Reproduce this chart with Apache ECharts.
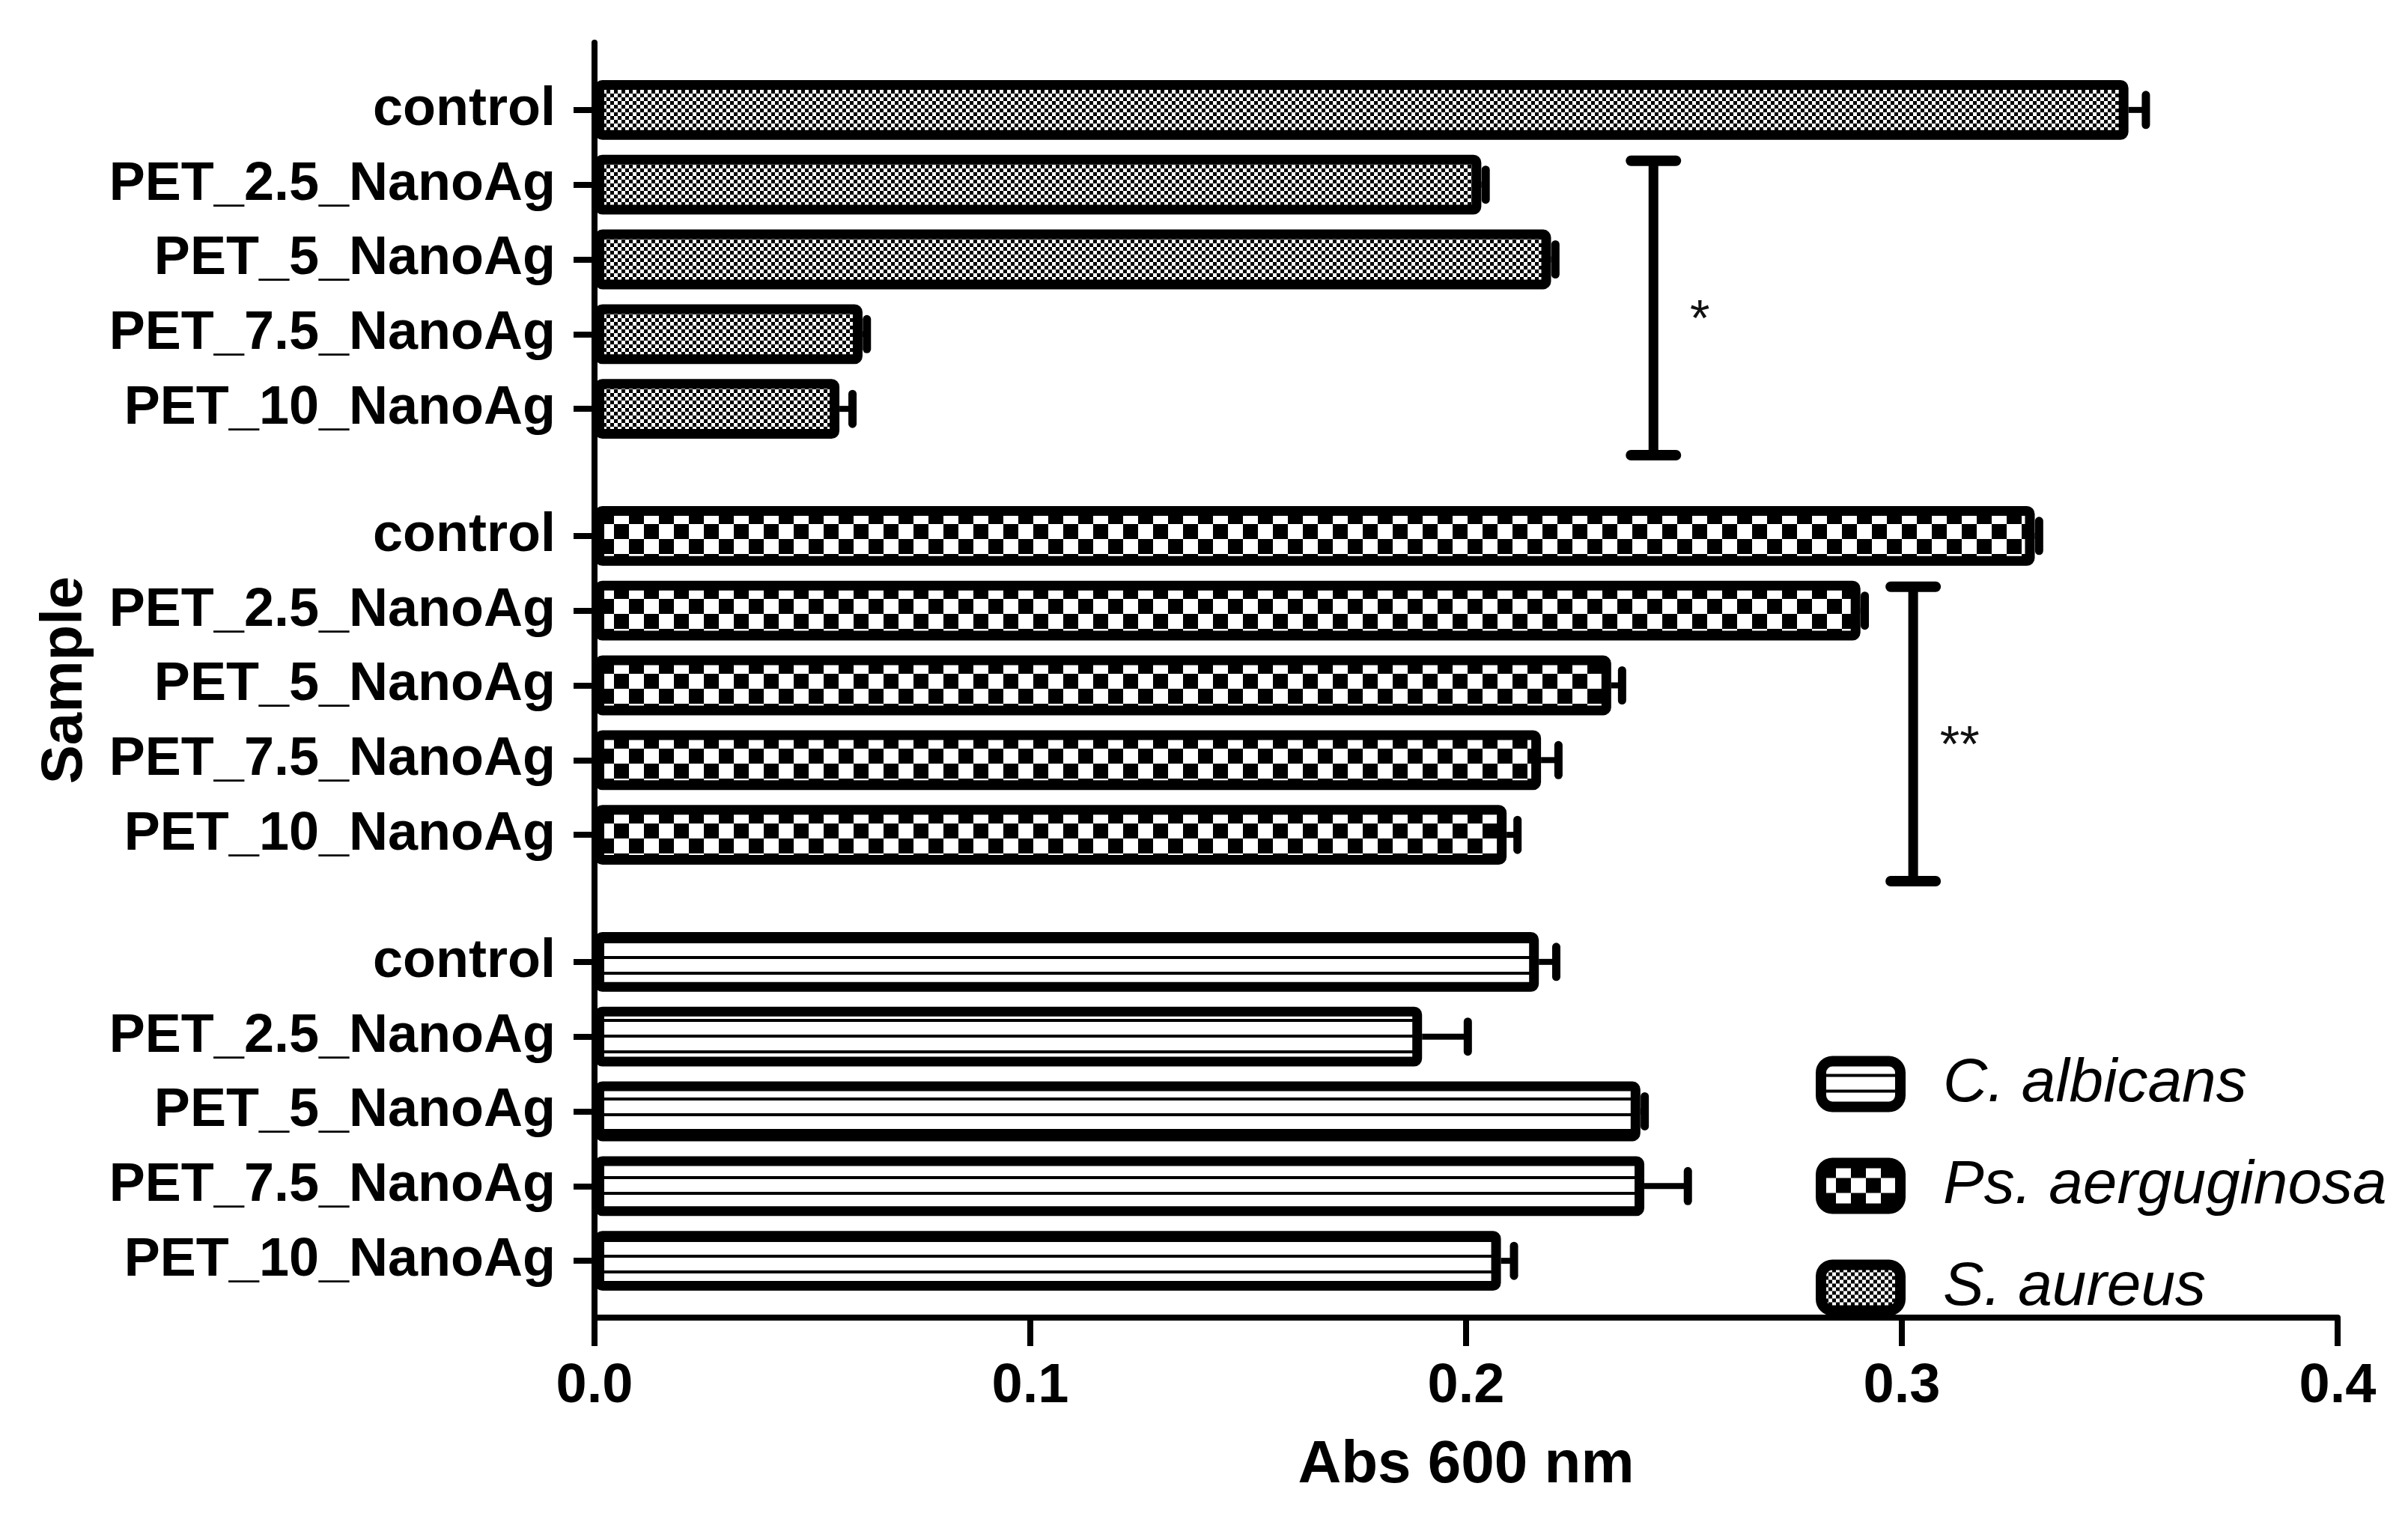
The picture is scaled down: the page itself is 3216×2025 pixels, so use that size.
<!DOCTYPE html>
<html>
<head>
<meta charset="utf-8">
<script src="https://cdn.jsdelivr.net/npm/echarts@6/dist/echarts.min.js"></script>
<style>
  html, body { margin: 0; background: #fff; }
  #chart { width: 3216px; height: 2025px; }
</style>
</head>
<body>
<div id="chart"></div>
<script>
// samples, same order inside every block (top to bottom)
const categories = ['control', 'PET_2.5_NanoAg', 'PET_5_NanoAg', 'PET_7.5_NanoAg', 'PET_10_NanoAg'];

// blocks drawn top to bottom
const sAureus = [0.352, 0.2035, 0.2195, 0.0615, 0.0562];
const sAureusErr = [0.004, 0.001, 0.001, 0.001, 0.003];
const psAer = [0.3305, 0.2905, 0.2333, 0.2172, 0.2093];
const psAerErr = [0.001, 0.001, 0.0025, 0.004, 0.0025];
const cAlb = [0.2167, 0.1899, 0.240, 0.2409, 0.208];
const cAlbErr = [0.004, 0.0105, 0.001, 0.010, 0.003];

const seriesNames = ['S. aureus', 'Ps. aerguginosa', 'C. albicans'];
const legendOrder = ['C. albicans', 'Ps. aerguginosa', 'S. aureus'];
const xTicks = [0.0, 0.1, 0.2, 0.3, 0.4];

// significance brackets: block, first / last sample, x position, label
const sigBlock = [0, 1];
const sigFrom = [1, 1];
const sigTo = [4, 4];
const sigX = [0.243, 0.3026];
const sigText = ['*', '**'];

const FONT = 'Liberation Sans, Arial, sans-serif';
const BLOCK = categories.length + 0.7;
const rowPos = (g, i) => g * BLOCK + i;

function pattern(w, h, draw) {
  const c = document.createElement('canvas');
  c.width = w; c.height = h;
  const ctx = c.getContext('2d');
  ctx.fillStyle = '#fff';
  ctx.fillRect(0, 0, w, h);
  ctx.fillStyle = '#000';
  draw(ctx);
  return { image: c, repeat: 'repeat' };
}
const fineChecker = pattern(10, 10, (ctx) => { ctx.fillRect(0, 0, 5, 5); ctx.fillRect(5, 5, 5, 5); });
const bigChecker = pattern(40, 40, (ctx) => { ctx.fillRect(0, 0, 20, 20); ctx.fillRect(20, 20, 20, 20); });
const stripes = pattern(10, 21, (ctx) => { ctx.fillRect(0, 17, 10, 4); });
const fills = [fineChecker, bigChecker, stripes];

const blocks = [[sAureus, sAureusErr], [psAer, psAerErr], [cAlb, cAlbErr]];

const labelValues = [];
const labelText = {};
blocks.forEach((b, g) => categories.forEach((c, i) => {
  labelValues.push(rowPos(g, i));
  labelText[rowPos(g, i).toFixed(2)] = c;
}));

const BORDER = 13;

function barItem(fill) {
  return function (params, api) {
    const v = api.value(0), y = api.value(1), e = api.value(2);
    const p0 = api.coord([0, y]);
    const p1 = api.coord([v, y]);
    const pe = api.coord([v + e, y]);
    const h = api.size([0, 0.8])[1];
    return {
      type: 'group',
      children: [
        {
          type: 'line',
          shape: { x1: p1[0], y1: p1[1], x2: pe[0], y2: pe[1] },
          style: { stroke: '#000', lineWidth: 8 }
        },
        {
          type: 'line',
          shape: { x1: pe[0], y1: pe[1] - 20, x2: pe[0], y2: pe[1] + 20 },
          style: { stroke: '#000', lineWidth: 11, lineCap: 'round' }
        },
        {
          type: 'rect',
          shape: {
            x: p0[0] + BORDER / 2, y: p0[1] - h / 2 + BORDER / 2,
            width: p1[0] - p0[0] - BORDER, height: h - BORDER, r: 4
          },
          style: { fill: fill, stroke: '#000', lineWidth: BORDER }
        }
      ]
    };
  };
}

const series = blocks.map((b, g) => ({
  name: seriesNames[g],
  type: 'custom',
  renderItem: barItem(fills[g]),
  itemStyle: { color: fills[g], borderColor: '#000' },
  encode: { x: 0, y: 1 },
  data: b[0].map((v, i) => [v, rowPos(g, i), b[1][i]]),
  z: 3
}));

series.push({
  type: 'custom',
  name: 'sig',
  encode: { x: 0, y: 1 },
  data: sigX.map((x, k) => [
    x,
    rowPos(sigBlock[k], sigFrom[k]) - 0.32,
    rowPos(sigBlock[k], sigTo[k]) + 0.62,
    k
  ]),
  renderItem: (params, api) => {
    const x = api.value(0);
    const a = api.coord([x, api.value(1)]);
    const b = api.coord([x, api.value(2)]);
    const k = api.value(3);
    const cap = { stroke: '#000', lineWidth: 14, lineCap: 'round' };
    return {
      type: 'group',
      children: [
        { type: 'line', shape: { x1: a[0], y1: a[1], x2: b[0], y2: b[1] }, style: { stroke: '#000', lineWidth: 13 } },
        { type: 'line', shape: { x1: a[0] - 30, y1: a[1], x2: a[0] + 30, y2: a[1] }, style: cap },
        { type: 'line', shape: { x1: b[0] - 30, y1: b[1], x2: b[0] + 30, y2: b[1] }, style: cap },
        {
          type: 'text',
          style: {
            text: sigText[k], x: a[0] + 62, y: (a[1] + b[1]) / 2 + 18,
            font: 'normal 68px ' + FONT, fill: '#111', align: 'center', verticalAlign: 'middle'
          }
        }
      ]
    };
  },
  z: 4
});

const chart = echarts.init(document.getElementById('chart'), null, { renderer: 'canvas' });
chart.setOption({
  animation: false,
  backgroundColor: '#fff',
  grid: { left: 794, right: 94, top: 57, bottom: 265, containLabel: false },
  xAxis: {
    type: 'value',
    min: xTicks[0],
    max: xTicks[xTicks.length - 1],
    interval: xTicks[1] - xTicks[0],
    name: 'Abs 600 nm',
    nameLocation: 'middle',
    nameGap: 158,
    nameTextStyle: { fontFamily: FONT, fontWeight: 'bold', fontSize: 80, color: '#000' },
    axisLine: { show: true, onZero: false, lineStyle: { color: '#000', width: 8 } },
    axisTick: { show: true, length: 38, lineStyle: { color: '#000', width: 8 } },
    axisLabel: {
      margin: 56, fontFamily: FONT, fontWeight: 'bold', fontSize: 74, color: '#000',
      formatter: (v) => v.toFixed(1)
    },
    splitLine: { show: false }
  },
  yAxis: {
    type: 'value',
    inverse: true,
    min: -0.9,
    max: rowPos(2, 4) + 0.76,
    name: 'Sample',
    nameLocation: 'middle',
    nameRotate: 90,
    nameGap: 668,
    nameTextStyle: { fontFamily: FONT, fontWeight: 'bold', fontSize: 78, color: '#000' },
    axisLine: { show: true, onZero: false, lineStyle: { color: '#000', width: 8 } },
    axisTick: { show: true, length: 28, customValues: labelValues, lineStyle: { color: '#000', width: 8 } },
    axisLabel: {
      margin: 52, fontFamily: FONT, fontWeight: 'bold', fontSize: 72, color: '#000',
      customValues: labelValues,
      formatter: (v) => labelText[Number(v).toFixed(2)] || ''
    },
    splitLine: { show: false }
  },
  legend: {
    orient: 'vertical',
    left: 2420,
    top: 1402,
    itemWidth: 106,
    itemHeight: 61,
    itemGap: 54,
    icon: 'roundRect',
    selectedMode: false,
    data: legendOrder.map((n) => ({
      name: n,
      itemStyle: { color: fills[seriesNames.indexOf(n)], borderColor: '#000', borderWidth: 14 }
    })),
    textStyle: {
      fontFamily: FONT, fontStyle: 'italic', fontSize: 82, color: '#000',
      lineHeight: 61, padding: [0, 0, 0, 52]
    }
  },
  series: series
});
</script>
</body>
</html>
